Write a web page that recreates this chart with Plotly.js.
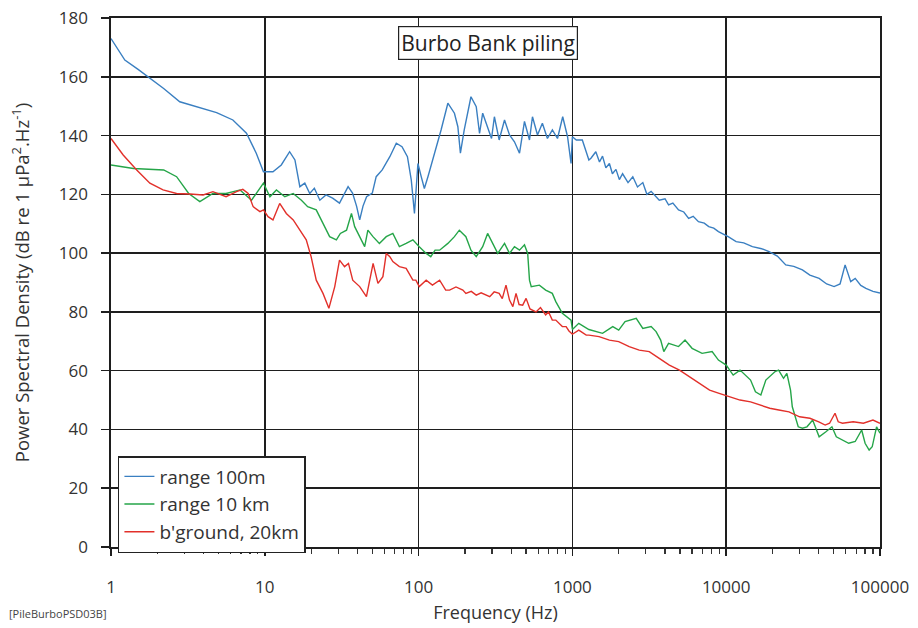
<!DOCTYPE html>
<html>
<head>
<meta charset="utf-8">
<script src="https://cdn.plot.ly/plotly-3.0.1.min.js"></script>
<style>html,body{margin:0;padding:0;background:#fff;}#chart{width:918px;height:628px;}</style>
</head>
<body>
<div id="chart"></div>
<script>
// Series names
const seriesNames = ["range 100m", "range 10 km", "b'ground, 20km"];
// [frequency Hz, PSD dB] pairs
const range100m = [[1,173],[1.23,165.7],[1.5,162.5],[1.75,160],[2.2,156],[2.8,151.5],[3.78,149.4],[4.86,147.8],[6.2,145.3],[7.6,140.8],[8.8,134],[9.8,127.7],[11.3,127.7],[12.8,130],[14.5,134.5],[15.7,131.7],[16.9,122.6],[18.2,123.8],[19.6,120.3],[21,122.1],[22.8,118],[25,119.8],[27.6,118.7],[30.6,117],[34.8,122.6],[37.2,120.4],[39.5,116],[41.4,111.3],[43.5,116],[45.9,119.2],[50,120.4],[53,126],[58,128.3],[65,132.8],[71.6,137.4],[78,136.2],[84.6,132.8],[89.6,124.9],[94,113.5],[99,130.5],[104,126],[109,122],[115,126],[120,129.4],[130,136.2],[140,141.9],[155,151],[171,147.6],[180,143],[187,134],[198,141.9],[219,153.2],[237,149.8],[249,140.7],[261,147.6],[281,143],[298,139],[311,146.4],[334,138.5],[362,145.3],[390,140.2],[420,137.9],[453,134],[488,144.8],[526,138.5],[550,146.4],[593,140.2],[638,144.2],[688,139],[741,141.9],[800,139],[865,146.4],[930,139.6],[980,130.5],[1000,139.6],[1060,138.5],[1160,138.5],[1280,131.7],[1320,132.3],[1420,134.5],[1500,131],[1570,133],[1650,129],[1740,130.5],[1820,127],[1920,128.5],[2020,125],[2120,127],[2300,124],[2470,126],[2650,122.5],[2870,124],[3050,120],[3250,121],[3670,118],[4000,118.5],[4220,116.4],[4500,117],[4900,114.7],[5300,114],[5700,111.8],[6100,112.5],[6600,110.7],[7200,110.2],[7700,109],[8300,108.5],[8900,107.3],[10300,105.6],[11600,103.9],[13000,103.5],[14800,102.2],[17000,101.5],[19000,100.5],[21500,99],[24400,96],[27500,95.5],[31300,94.3],[35000,92.5],[40200,91.4],[45000,89.5],[50300,88.6],[55000,89.5],[59300,96],[64500,90.3],[69000,91.4],[75000,89],[81000,88],[90000,87],[100000,86.4]];
const range10km = [[1,130],[1.4,128.8],[2.2,128.3],[2.67,126],[3.2,120.3],[3.78,117.5],[4.6,120.3],[5.6,120.3],[6.9,121.5],[8.2,118],[9.8,123.8],[10.8,119.2],[11.9,121.5],[13.5,119.2],[15.3,120.3],[17.3,118],[19,115.8],[21.6,114.7],[23.9,110.1],[26.4,105.6],[29.2,104.5],[31,106.7],[34,107.8],[36.6,113.5],[38.4,109],[41.4,105.6],[44.6,102.2],[46.8,107.8],[50.5,105.6],[55.6,103.3],[61.6,105.6],[68,106.7],[75,102.2],[83,103.3],[91.8,104.5],[101,102.2],[112,99.9],[120,98.8],[128,101],[137,101],[155,103.3],[171,105.6],[184,107.8],[203,105.6],[219,101],[237,98.8],[261,102.2],[281,106.7],[303,103.3],[327,99.9],[362,103.3],[390,99.9],[420,102.2],[453,101],[488,102.8],[512,99.9],[526,90.8],[540,88.6],[610,89.1],[670,87.4],[740,86.3],[780,83.5],[860,79.5],[980,77.2],[1000,74],[1100,76.1],[1280,74],[1400,73.5],[1570,72.7],[1830,75],[2000,73.8],[2200,76.7],[2600,77.8],[2870,74.4],[3250,75],[3500,73.3],[3750,70.4],[3930,66.5],[4220,69.3],[4900,68.2],[5400,70.4],[6000,67.6],[6970,65.9],[8100,66.5],[8900,63.6],[10000,61.9],[11100,58.5],[12300,60.2],[14400,56.8],[15500,52.8],[16800,51.7],[18100,56.8],[19300,58],[20800,59.7],[21900,60.2],[23600,57.4],[24800,59.1],[26200,53.4],[26900,47.7],[29400,40.9],[31300,40.4],[33500,40.9],[36500,43.2],[40200,37.5],[44500,39.2],[48700,40.9],[52000,37.5],[57000,36.4],[62600,35.3],[69000,35.9],[76000,39.8],[80000,35.3],[85000,33],[89000,34.1],[95000,40.9],[100000,38.7]];
const background20km = [[1,139],[1.2,133.4],[1.47,128.3],[1.79,123.8],[2.18,121.5],[2.67,120.3],[3.26,120.1],[3.97,119.8],[4.6,120.9],[5.6,119.2],[6.55,120.9],[7.2,121.7],[7.8,120.3],[8.4,115.8],[9.3,114.1],[9.8,114.7],[10.5,112.4],[11.3,111.3],[12.5,116.9],[13.8,113.5],[15.3,111.3],[16.9,107.9],[18.6,104.5],[20,98.8],[21.6,90.8],[23.9,86.3],[26.1,81.2],[28.5,88.6],[30.6,97.6],[33,95.4],[35,96.5],[37.3,90.8],[41.4,88.6],[45.8,85.2],[50.6,96.5],[54.4,89.7],[58.6,92],[61.6,99.9],[65,98.8],[68,97.1],[75,95.4],[83,94.8],[91.8,90.8],[96,90.8],[101,88.6],[112,90.8],[123,89.1],[137,90.8],[150,87.4],[159,87.4],[175,88.5],[194,87.4],[203,86.3],[220,87],[237,85.7],[255,86.5],[275,85.7],[290,85.2],[310,86.8],[334,86.3],[350,84.5],[370,89.1],[390,84],[410,81.8],[430,86.3],[450,82.5],[475,82.3],[500,84.6],[530,81],[580,80],[620,81.5],[670,79],[700,80],[740,77.2],[780,77.2],[820,76],[860,75],[910,75],[950,73.5],[1000,72.4],[1100,73.8],[1230,72.1],[1280,72.1],[1490,71.6],[1740,70.4],[2000,69.9],[2340,68.2],[2720,67],[3160,66.5],[3670,64.2],[4270,61.9],[4970,60.2],[5780,57.9],[6720,55.7],[7800,53.4],[9000,52.3],[10500,51.2],[12300,50],[14400,49.4],[16600,48.3],[19200,47.2],[22000,46.6],[25600,46],[30000,44.3],[35000,43.8],[40000,42.6],[44000,41.5],[47000,42.1],[51000,45.5],[53500,42.6],[57000,42.1],[67000,42.6],[78000,42.1],[90000,43.2],[100000,42.1]];
const seriesColors = ["#3a7fc1", "#25a548", "#e2302a"];
const xTickVals = [1, 10, 100, 1000, 10000, 100000];
const xTickText = ["1", "10", "100", "1000", "10000", "100000"];

const FONT = "'Open Sans', Lato, sans-serif";
const allSeries = [range100m, range10km, background20km];
const traces = allSeries.map((s, i) => ({
  type: "scatter", mode: "lines",
  name: seriesNames[i],
  x: s.map(p => p[0]), y: s.map(p => p[1]),
  line: {color: seriesColors[i], width: 1.4}
}));

const layout = {
  width: 918, height: 628,
  margin: {l: 111, r: 38, t: 18, b: 81},
  paper_bgcolor: "#fff", plot_bgcolor: "#fff",
  font: {family: FONT, size: 17, color: "#333"},
  showlegend: true,
  legend: {
    x: 0.009, y: 0.172, xanchor: "left", yanchor: "top",
    bgcolor: "#fff", bordercolor: "#222", borderwidth: 1.5,
    font: {family: FONT, size: 19, color: "#333"},
    tracegroupgap: 0
  },
  xaxis: {
    type: "log", range: [0, 5],
    tickvals: xTickVals, ticktext: xTickText,
    showgrid: true, gridcolor: "#1e1e1e", gridwidth: 1.6,
    showline: true, linecolor: "#1e1e1e", linewidth: 1.6, mirror: true,
    ticks: "outside", ticklen: 7, tickcolor: "#1e1e1e", tickwidth: 1.5,
    ticklabelstandoff: 17,
    minor: {dtick: "D1", ticks: "outside", ticklen: 5, tickcolor: "#333", tickwidth: 1.2, showgrid: false},
    zeroline: false,
    tickfont: {family: FONT, size: 17, color: "#333"},
    title: {text: "Frequency (Hz)", font: {family: FONT, size: 18, color: "#333"}, standoff: 9}
  },
  yaxis: {
    range: [0, 180], dtick: 20, tick0: 0,
    showgrid: true, gridcolor: "#1e1e1e", gridwidth: 1.6,
    showline: true, linecolor: "#1e1e1e", linewidth: 1.6, mirror: true,
    ticks: "outside", ticklen: 8, tickcolor: "#1e1e1e", tickwidth: 1.5,
    ticklabelstandoff: 10,
    zeroline: false,
    tickfont: {family: FONT, size: 17, color: "#333"},
    title: {text: "Power Spectral Density (dB re 1 µPa<sup>2</sup>.Hz<sup>-1</sup>)", font: {family: FONT, size: 18.5, color: "#333"}, standoff: 24}
  },
  annotations: [
    {xref: "paper", yref: "paper", x: 0.49, y: 0.985, xanchor: "center", yanchor: "top",
     text: "Burbo Bank piling", showarrow: false,
     font: {family: FONT, size: 21, color: "#222"},
     bgcolor: "#fff", bordercolor: "#222", borderwidth: 1.2, borderpad: 2},
    {xref: "paper", yref: "paper", x: -0.135, y: -0.125, xanchor: "left", yanchor: "middle",
     text: "[PileBurboPSD03B]", showarrow: false,
     font: {family: FONT, size: 11, color: "#444"}}
  ]
};

Plotly.newPlot("chart", traces, layout, {displayModeBar: false, staticPlot: true});
</script>
</body>
</html>
